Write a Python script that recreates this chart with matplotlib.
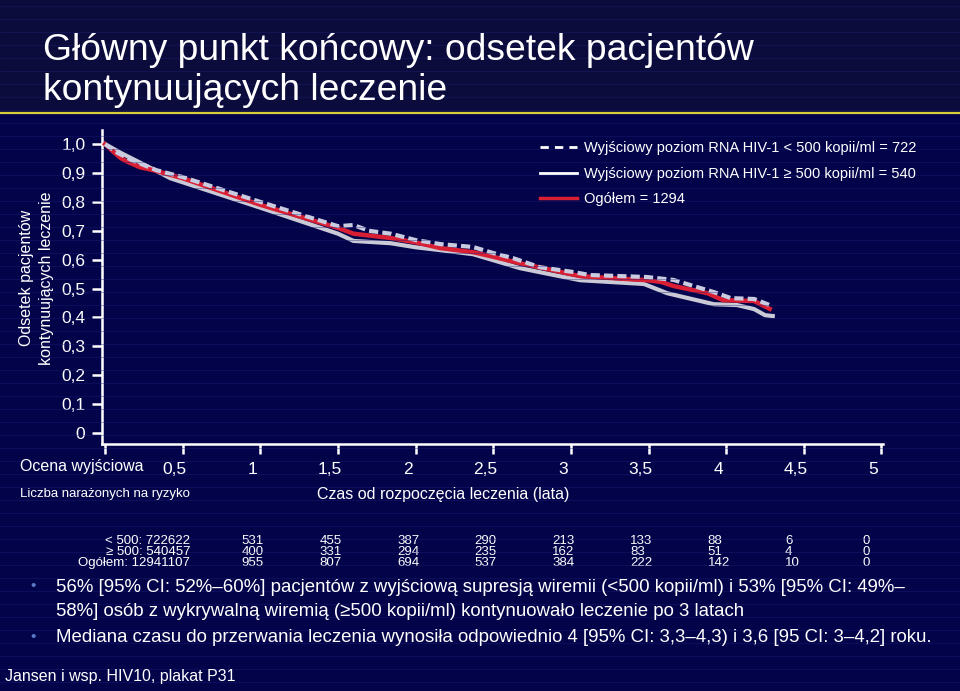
import matplotlib
matplotlib.use("Agg")
import matplotlib.pyplot as plt
from matplotlib.lines import Line2D
from matplotlib.transforms import ScaledTranslation
import numpy as np

plt.rcParams['font.family'] = ['Liberation Sans', 'DejaVu Sans']

BG = '#03034a'
TITLE_BG = '#0b0c3c'

# Kaplan-Meier curves (czas w latach, odsetek kontynuujacych)
t_lo = [0, 0.08, 0.17, 0.33, 0.5, 1.0, 1.5, 1.6, 1.7, 1.84, 2.0, 2.16, 2.37, 2.5, 2.63, 2.8,
        3.02, 3.12, 3.49, 3.66, 3.92, 4.03, 4.18, 4.28]
v_lo = [1.0, 0.97, 0.945, 0.91, 0.886, 0.80, 0.716, 0.72, 0.70, 0.69, 0.668, 0.654, 0.644, 0.623,
        0.605, 0.574, 0.557, 0.547, 0.54, 0.53, 0.488, 0.467, 0.464, 0.443]

t_hi = [0, 0.1, 0.31, 0.42, 0.5, 1.0, 1.5, 1.6, 1.84, 2.0, 2.16, 2.37, 2.67, 2.89, 3.06, 3.47,
        3.62, 3.92, 4.07, 4.18, 4.25, 4.3]
v_hi = [1.0, 0.97, 0.913, 0.882, 0.868, 0.78, 0.69, 0.665, 0.657, 0.643, 0.633, 0.619, 0.571,
        0.547, 0.529, 0.516, 0.484, 0.446, 0.443, 0.429, 0.408, 0.405]

t_all = [0, 0.05, 0.1, 0.14, 0.225, 0.31, 0.5, 1.0, 1.5, 1.6, 1.84, 2.0, 2.16, 2.37, 2.5, 2.67,
         3.06, 3.49, 3.58, 3.66, 3.88, 3.98, 4.18, 4.28]
v_all = [1.0, 0.975, 0.952, 0.94, 0.92, 0.91, 0.882, 0.79, 0.71, 0.69, 0.675, 0.66, 0.64, 0.626,
         0.61, 0.588, 0.543, 0.529, 0.523, 0.509, 0.484, 0.46, 0.457, 0.43]

legend_labels = ['Wyjściowy poziom RNA HIV-1 < 500 kopii/ml = 722',
                 'Wyjściowy poziom RNA HIV-1 \u2265 500 kopii/ml = 540',
                 'Ogółem = 1294']

x_ticks = [0, 0.5, 1, 1.5, 2, 2.5, 3, 3.5, 4, 4.5, 5]
x_ticklabels = ['', '0,5', '1', '1,5', '2', '2,5', '3', '3,5', '4', '4,5', '5']
y_ticks = [0, 0.1, 0.2, 0.3, 0.4, 0.5, 0.6, 0.7, 0.8, 0.9, 1.0]
y_ticklabels = ['0', '0,1', '0,2', '0,3', '0,4', '0,5', '0,6', '0,7', '0,8', '0,9', '1,0']

# tabela liczby narazonych na ryzyko
risk_rows = ['< 500: 722622', '\u2265 500: 540457', 'Ogółem: 12941107']
risk_times = [1, 1.5, 2, 2.5, 3, 3.5, 4, 4.5, 5]
risk_lo = ['531', '455', '387', '290', '213', '133', '88', '6', '0']
risk_hi = ['400', '331', '294', '235', '162', '83', '51', '4', '0']
risk_all = ['955', '807', '694', '537', '384', '222', '142', '10', '0']

bullet_lines = ['56% [95% CI: 52%\u201360%] pacjentów z wyjściową supresją wiremii (<500 kopii/ml) i 53% [95% CI: 49%\u2013',
                '58%] osób z wykrywalną wiremią (\u2265500 kopii/ml) kontynuowało leczenie po 3 latach',
                'Mediana czasu do przerwania leczenia wynosiła odpowiednio 4 [95% CI: 3,3\u20134,3) i 3,6 [95 CI: 3\u20134,2] roku.']
bullet_start = [True, False, True]

W, H = 960, 691
fig = plt.figure(figsize=(W / 100, H / 100), dpi=100, facecolor=BG)

# tlo naglowka i paski tekstury
fig.patches.append(plt.Rectangle((0, 1 - 113 / H), 1, 113 / H, transform=fig.transFigure,
                                 facecolor=TITLE_BG, edgecolor='none', zorder=0))
for yy in np.arange(6, H, 13):
    fig.add_artist(Line2D([0, 1], [1 - yy / H, 1 - yy / H], transform=fig.transFigure,
                          color='#1c2078', lw=0.6, alpha=0.45, zorder=0.5))
fig.add_artist(Line2D([0, 1], [1 - 113 / H, 1 - 113 / H], transform=fig.transFigure,
                      color='#d8cf3a', lw=1.6, zorder=1))

fig.text(43 / W, 1 - 51 / H, 'Główny punkt końcowy: odsetek pacjentów', color='white',
         fontsize=26.8, va='center', ha='left')
fig.text(43 / W, 1 - 91 / H, 'kontynuujących leczenie', color='white',
         fontsize=26.8, va='center', ha='left')

ax = fig.add_axes([102 / W, 1 - 444 / H, 781 / W, 314 / H])
ax.set_facecolor('none')
ax.set_xlim(-0.02, 5.01)
ax.set_ylim(-0.038, 1.049)

ax.plot(t_hi, v_hi, color='#c9cad6', lw=3, solid_joinstyle='round', zorder=3)
ax.plot(t_all, v_all, color='#d91f34', lw=3.2, solid_joinstyle='round', zorder=4)
ax.plot(t_lo, v_lo, color='#c9cbe0', lw=3, dashes=(2.2, 1.0), zorder=5)

for s in ['top', 'right']:
    ax.spines[s].set_visible(False)
for s in ['left', 'bottom']:
    ax.spines[s].set_color('white')
    ax.spines[s].set_linewidth(1.8)

ax.set_xticks(x_ticks)
ax.set_xticklabels(x_ticklabels)
ax.set_yticks(y_ticks)
ax.set_yticklabels(y_ticklabels)
ax.tick_params(axis='both', colors='white', labelsize=12.5, length=7, width=1.8)
ax.tick_params(axis='x', pad=6)
ax.tick_params(axis='y', pad=5)
shift = ScaledTranslation(-8 / 100, 0, fig.dpi_scale_trans)
for lbl in ax.get_xticklabels():
    lbl.set_transform(lbl.get_transform() + shift)

fig.text(27 / W, 1 - 278 / H, 'Odsetek pacjentów', color='white', fontsize=11.5,
         rotation=90, ha='center', va='center')
fig.text(47 / W, 1 - 278 / H, 'kontynuujących leczenie', color='white', fontsize=11.5,
         rotation=90, ha='center', va='center')

fig.text(20 / W, 1 - 467 / H, 'Ocena wyjściowa', color='white', fontsize=11.5,
         ha='left', va='center')
fig.text(20 / W, 1 - 494 / H, 'Liczba narażonych na ryzyko', color='white', fontsize=9.5,
         ha='left', va='center')
fig.text(443 / W, 1 - 495 / H, 'Czas od rozpoczęcia leczenia (lata)', color='white',
         fontsize=11.5, ha='center', va='center')

leg_handles = [Line2D([], [], color='white', lw=2, dashes=(3, 2.2)),
               Line2D([], [], color='white', lw=2),
               Line2D([], [], color='#d91f34', lw=2.5)]
fig.legend(leg_handles, legend_labels, loc='upper left',
           bbox_to_anchor=(540 / W, 1 - 141 / H), frameon=False, fontsize=10.5,
           labelcolor='white', handlelength=2.55, handletextpad=0.48, labelspacing=0.8,
           borderaxespad=0, borderpad=0)

# tabela ryzyka
row_y = [541, 552, 563]
for label, yy in zip(risk_rows, row_y):
    fig.text(190 / W, 1 - yy / H, label, color='white', fontsize=9.5, ha='right',
             va='center')
trans = ax.get_xaxis_transform()
for values, yy in zip([risk_lo, risk_hi, risk_all], row_y):
    for t, v in zip(risk_times, values):
        ax.text(t - 0.12, 1 - (yy - 130) / 314, v, transform=trans, color='white',
                fontsize=9.5, ha='left', va='center', clip_on=False)

# punkty
line_y = [587, 611, 638]
for text, yy, start in zip(bullet_lines, line_y, bullet_start):
    if start:
        fig.text(33 / W, 1 - (yy - 1) / H, '\u2022', color='#5a78c8', fontsize=11,
                 ha='center', va='center')
    fig.text(56 / W, 1 - yy / H, text, color='white', fontsize=13.4, ha='left',
             va='center')

fig.text(5 / W, 1 - 677 / H, 'Jansen i wsp. HIV10, plakat P31', color='white', fontsize=11.5,
         ha='left', va='center')

fig.savefig('out.png', dpi=100, facecolor=BG)
